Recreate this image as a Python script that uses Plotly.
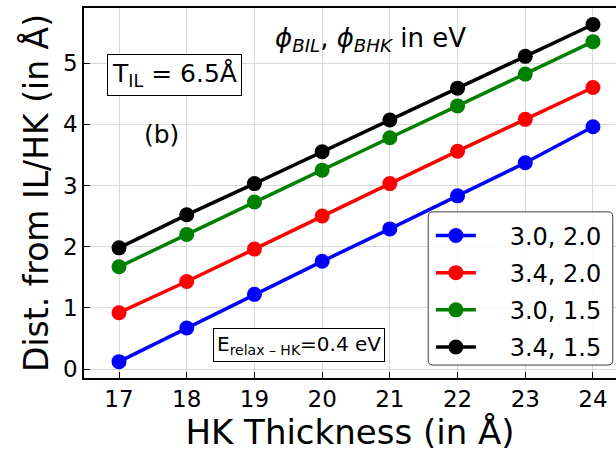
import plotly.graph_objects as go

# HK thickness (Å)
thickness = [17, 18, 19, 20, 21, 22, 23, 24]

# Distance from IL/HK interface (Å) for each (phi_BIL, phi_BHK) pair
dist_30_20 = [0.12, 0.67, 1.22, 1.76, 2.29, 2.83, 3.37, 3.96]
dist_34_20 = [0.92, 1.43, 1.96, 2.50, 3.03, 3.56, 4.08, 4.60]
dist_30_15 = [1.67, 2.20, 2.73, 3.25, 3.78, 4.30, 4.82, 5.35]
dist_34_15 = [1.98, 2.52, 3.03, 3.55, 4.07, 4.59, 5.11, 5.63]

series_names = ["3.0, 2.0", "3.4, 2.0", "3.0, 1.5", "3.4, 1.5"]
series_colors = ["#0000ff", "#ff0000", "#008000", "#000000"]
series_values = [dist_30_20, dist_34_20, dist_30_15, dist_34_15]

y_ticks = [0, 1, 2, 3, 4, 5]

FONT = "DejaVu Sans"
PAD = "\u2002\u2002\u2009"  # gap between legend handle and label

fig = go.Figure()
for i, (name, color, vals) in enumerate(zip(series_names, series_colors, series_values)):
    fig.add_trace(go.Scatter(
        x=thickness, y=vals, name=PAD + name, mode="lines+markers",
        line=dict(color=color, width=3.5),
        marker=dict(color=color, size=15),
        legendgroup=f"g{i}",
    ))

# Legend frame with rounded corners (paper coordinates)
lx0, lx1, ly0, ly1 = 0.647, 0.994, 0.035, 0.449
rx, ry = 0.009, 0.013
frame = (
    f"M {lx0+rx},{ly0} L {lx1-rx},{ly0} Q {lx1},{ly0} {lx1},{ly0+ry} "
    f"L {lx1},{ly1-ry} Q {lx1},{ly1} {lx1-rx},{ly1} "
    f"L {lx0+rx},{ly1} Q {lx0},{ly1} {lx0},{ly1-ry} "
    f"L {lx0},{ly0+ry} Q {lx0},{ly0} {lx0+rx},{ly0} Z"
)
fig.add_shape(
    type="path", path=frame, xref="paper", yref="paper",
    line=dict(color="#3a3a3a", width=1), fillcolor="rgba(255,255,255,0.85)",
    layer="above",
)

fig.update_layout(
    width=616, height=452,
    margin=dict(l=84, r=0, t=8, b=74),
    paper_bgcolor="white", plot_bgcolor="white",
    font=dict(family=FONT, color="black"),
    showlegend=True,
    legend=dict(
        x=0.652, y=0.445, xanchor="left", yanchor="top",
        bgcolor="rgba(0,0,0,0)", borderwidth=0,
        font=dict(size=24, family=FONT),
        tracegroupgap=3,
        itemwidth=40,
    ),
    xaxis=dict(
        range=[16.483, 24.34],
        tickvals=thickness,
        ticks="inside", ticklen=6, tickwidth=1, tickcolor="black",
        showline=True, linecolor="black", linewidth=1.5, mirror=True,
        showgrid=True, gridcolor="#d9d9d9", gridwidth=1,
        zeroline=False,
        tickfont=dict(size=23, family=FONT),
        title=dict(text="HK Thickness (in Å)", font=dict(size=34, family=FONT), standoff=6),
    ),
    yaxis=dict(
        range=[-0.147, 5.90],
        tickvals=y_ticks,
        ticks="inside", ticklen=6, tickwidth=1, tickcolor="black",
        showline=True, linecolor="black", linewidth=1.5, mirror=False,
        showgrid=True, gridcolor="#d9d9d9", gridwidth=1,
        zeroline=False,
        tickfont=dict(size=23, family=FONT),
        title=dict(text="Dist. from IL/HK (in Å)", font=dict(size=33, family=FONT), standoff=4),
    ),
)

# Text annotations inside the axes
fig.add_annotation(
    x=0.538, y=0.914, xref="paper", yref="paper", xanchor="center", yanchor="middle",
    text="<i>ϕ</i><sub><i>BIL</i></sub>, <i>ϕ</i><sub><i>BHK</i></sub> in eV",
    showarrow=False, font=dict(size=26, family=FONT),
)
fig.add_annotation(
    x=0.170, y=0.818, xref="paper", yref="paper", xanchor="center", yanchor="middle",
    text="T<sub>IL</sub> = 6.5Å",
    showarrow=False, font=dict(size=25, family=FONT),
    bordercolor="black", borderwidth=1, borderpad=4, bgcolor="white",
)
fig.add_annotation(
    x=0.145, y=0.659, xref="paper", yref="paper", xanchor="center", yanchor="middle",
    text="(b)", showarrow=False, font=dict(size=25, family=FONT),
)
fig.add_annotation(
    x=0.404, y=0.089, xref="paper", yref="paper", xanchor="center", yanchor="middle",
    text="E<sub>relax – HK</sub>=0.4 eV",
    showarrow=False, font=dict(size=20, family=FONT),
    bordercolor="black", borderwidth=1, borderpad=3, bgcolor="white",
)

fig.write_html("out.html")
